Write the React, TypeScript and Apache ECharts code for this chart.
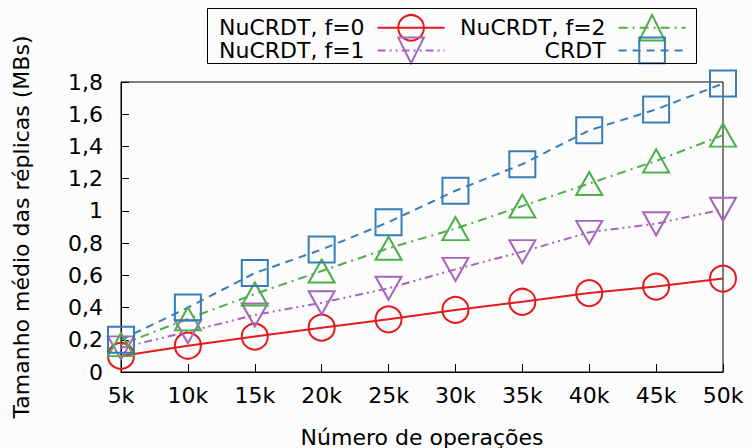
import React, { useEffect, useRef } from "react";
import * as echarts from "echarts";

const ops = [5, 10, 15, 20, 25, 30, 35, 40, 45, 50];
const nucrdtF0 = [0.1, 0.163, 0.22, 0.275, 0.327, 0.385, 0.436, 0.49, 0.53, 0.58];
const nucrdtF1 = [0.15, 0.25, 0.354, 0.43, 0.52, 0.637, 0.747, 0.867, 0.92, 1.01];
const nucrdtF2 = [0.17, 0.33, 0.484, 0.627, 0.768, 0.89, 1.03, 1.17, 1.31, 1.47];
const crdt = [0.2, 0.4, 0.614, 0.76, 0.93, 1.125, 1.29, 1.5, 1.63, 1.79];

const names = ["NuCRDT, f=0", "NuCRDT, f=1", "NuCRDT, f=2", "CRDT"];
const xTitle = "Número de operações";
const yTitle = "Tamanho médio das réplicas (MBs)";

const FONT = "DejaVu Sans";
const FS = 22;

export default function App() {
  const ref = useRef<HTMLDivElement>(null);
  useEffect(() => {
    if (!ref.current) return;
    const chart = echarts.init(ref.current, undefined, { renderer: "svg" });
    const pairs = (ys: number[]) => ops.map((x, i) => [x, ys[i]]);
    const mk = (
      name: string,
      ys: number[],
      color: string,
      symbol: string,
      size: number | number[],
      dash: any,
      rotate = 0
    ) => ({
      name,
      type: "line",
      data: pairs(ys),
      symbol,
      symbolSize: size,
      symbolRotate: rotate,
      showAllSymbol: true,
      lineStyle: { color, width: 2, type: dash },
      itemStyle: { color: "rgba(0,0,0,0)", borderColor: color, borderWidth: 2 },
      emphasis: { disabled: true },
    });
    const legendText = { fontFamily: FONT, fontSize: FS, color: "#000", padding: [0, 8, 0, 0] };
    chart.setOption({
      animation: false,
      backgroundColor: "#fcfcfc",
      graphic: [
        {
          type: "rect",
          shape: { x: 207.5, y: 8.5, width: 489, height: 55 },
          style: { fill: "none", stroke: "#000", lineWidth: 1 },
          z: 10,
        },
      ],
      legend: [
        {
          data: [names[0], names[1]],
          orient: "vertical",
          align: "right",
          left: 214,
          top: 9,
          itemWidth: 67,
          itemHeight: 32,
          itemGap: -5,
          textStyle: legendText,
        },
        {
          data: [names[2], names[3]],
          orient: "vertical",
          align: "right",
          left: 455,
          top: 9,
          itemWidth: 67,
          itemHeight: 32,
          itemGap: -5,
          textStyle: legendText,
        },
      ],
      grid: {
        left: 121,
        top: 82,
        right: 29,
        bottom: 76,
        show: true,
        borderColor: "#000",
        borderWidth: 1,
        backgroundColor: "transparent",
        containLabel: false,
        outerBoundsMode: "none",
      },
      xAxis: {
        type: "value",
        min: 5,
        max: 50,
        interval: 5,
        name: xTitle,
        nameLocation: "middle",
        nameGap: 54,
        nameTextStyle: { fontFamily: FONT, fontSize: FS, color: "#000" },
        axisLine: { lineStyle: { color: "#000", width: 1 } },
        axisTick: { inside: true, length: 8, lineStyle: { color: "#000" } },
        axisLabel: {
          fontFamily: FONT,
          fontSize: FS,
          color: "#000",
          margin: 12,
          formatter: (v: number) => `${v}k`,
        },
        splitLine: { show: false },
      },
      yAxis: {
        type: "value",
        min: 0,
        max: 1.8,
        interval: 0.2,
        name: yTitle,
        nameLocation: "middle",
        nameGap: 89,
        nameTextStyle: { fontFamily: FONT, fontSize: FS, color: "#000" },
        axisLine: { show: true, lineStyle: { color: "#000", width: 1 } },
        axisTick: { show: true, inside: true, length: 8, lineStyle: { color: "#000" } },
        axisLabel: {
          fontFamily: FONT,
          fontSize: FS,
          color: "#000",
          margin: 18,
          formatter: (v: number) => String(Math.round(v * 10) / 10).replace(".", ","),
        },
        splitLine: { show: false },
      },
      series: [
        mk(names[0], nucrdtF0, "#e41a1c", "circle", 26, "solid"),
        mk(names[1], nucrdtF1, "#a566bd", "triangle", [26, 23], [8, 4, 2, 4, 2, 4], 180),
        mk(names[2], nucrdtF2, "#4daf4a", "triangle", [26, 23], [9, 5, 2, 5]),
        mk(names[3], crdt, "#377eb8", "rect", 26, [8, 6]),
      ],
    });
    return () => chart.dispose();
  }, []);
  return <div ref={ref} style={{ width: 752, height: 448, position: "absolute", left: 0, top: 0 }} />;
}
